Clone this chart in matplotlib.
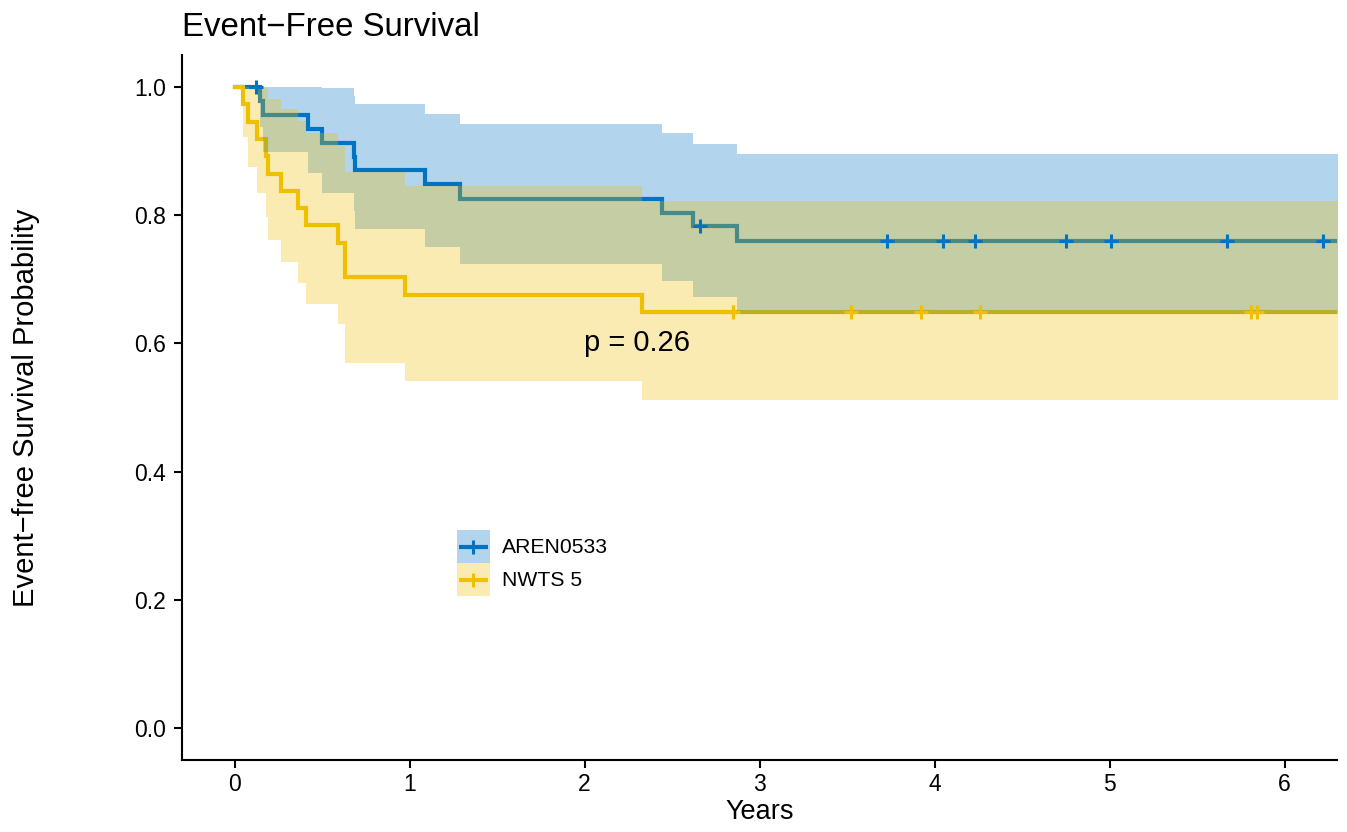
import numpy as np
import matplotlib
matplotlib.use("Agg")
import matplotlib.pyplot as plt
from matplotlib.patches import Patch, Rectangle
from matplotlib.lines import Line2D
from matplotlib.legend_handler import HandlerBase

plt.rcParams['font.family'] = ['Liberation Sans', 'DejaVu Sans']

# ---------------- data ----------------
groups = ["AREN0533", "NWTS 5"]
colors = ["#0073C2", "#EFC000"]

# AREN0533
times_a = [0.0, 0.144, 0.165, 0.42, 0.50, 0.68, 0.69, 1.09, 1.29, 2.44, 2.62, 2.87]
surv_a = [1.0, 0.978, 0.957, 0.935, 0.913, 0.891, 0.870, 0.848, 0.826, 0.804, 0.783, 0.760]
lower_a = [1.0, 0.937, 0.899, 0.866, 0.835, 0.806, 0.778, 0.750, 0.724, 0.698, 0.672, 0.646]
upper_a = [1.0, 1.0, 1.0, 1.0, 0.998, 0.986, 0.973, 0.958, 0.943, 0.928, 0.911, 0.895]
censor_a = [0.125, 2.66, 3.73, 4.05, 4.23, 4.75, 5.01, 5.67, 6.22]

# NWTS 5
times_b = [0.0, 0.046, 0.078, 0.129, 0.178, 0.19, 0.264, 0.363, 0.41, 0.59, 0.634, 0.976, 2.33]
surv_b = [1.0, 0.973, 0.946, 0.919, 0.892, 0.865, 0.838, 0.811, 0.784, 0.757, 0.703, 0.676, 0.649]
lower_b = [1.0, 0.922, 0.876, 0.835, 0.797, 0.761, 0.727, 0.694, 0.662, 0.630, 0.570, 0.541, 0.512]
upper_b = [1.0, 1.0, 1.0, 1.0, 0.998, 0.982, 0.965, 0.947, 0.928, 0.908, 0.867, 0.845, 0.822]
censor_b = [2.85, 3.52, 3.92, 4.26, 5.81, 5.84]

followup_end = 6.5

x_ticks = [0, 1, 2, 3, 4, 5, 6]
x_ticklabels = ["0", "1", "2", "3", "4", "5", "6"]
y_ticks = [0.0, 0.2, 0.4, 0.6, 0.8, 1.0]
y_ticklabels = ["0.0", "0.2", "0.4", "0.6", "0.8", "1.0"]

title = "Event\u2212Free Survival"
xlabel = "Years"
ylabel = "Event\u2212free Survival Probability"
pval_text = "p = 0.26"
pval_pos = (2.0, 0.6)

LW = 3.0
MS = 10.5
MEW = 2.2

# ---------------- plot ----------------
fig = plt.figure(figsize=(13.47, 8.32), dpi=100)
ax = fig.add_axes([182/1347, 1 - 760/832, (1337-182)/1347, (760-55)/832])

series = [
    (times_a, surv_a, lower_a, upper_a, censor_a),
    (times_b, surv_b, lower_b, upper_b, censor_b),
]

for i, (t, s, lo, hi, cens) in enumerate(series):
    tx = np.append(np.array(t), followup_end)
    sy = np.append(np.array(s), s[-1])
    ax.step(tx, sy, where='post', color=colors[i], lw=LW, zorder=2 + 0.1 * i,
            solid_joinstyle='miter')

for i, (t, s, lo, hi, cens) in enumerate(series):
    tx = np.append(np.array(t), followup_end)
    loy = np.append(np.array(lo), lo[-1])
    hiy = np.append(np.array(hi), hi[-1])
    ax.fill_between(tx, loy, hiy, step='post', color=colors[i], alpha=0.3,
                    linewidth=0, zorder=3 + 0.1 * i)

for i, (t, s, lo, hi, cens) in enumerate(series):
    idx = np.searchsorted(np.array(t), np.array(cens), side='right') - 1
    cy = np.array(s)[idx]
    ax.plot(cens, cy, linestyle='none', marker='+', color=colors[i],
            markersize=MS, markeredgewidth=MEW, zorder=4 + 0.1 * i)

ax.text(pval_pos[0], pval_pos[1], pval_text, fontsize=21, ha='left', va='center', zorder=6)

ax.set_xlim(-0.3, 6.3)
ax.set_ylim(-0.05, 1.05)
ax.set_xticks(x_ticks)
ax.set_xticklabels(x_ticklabels)
ax.set_yticks(y_ticks)
ax.set_yticklabels(y_ticklabels)

for side in ['top', 'right']:
    ax.spines[side].set_visible(False)
for side in ['left', 'bottom']:
    ax.spines[side].set_linewidth(1.5)
    ax.spines[side].set_color('black')
ax.tick_params(axis='both', direction='out', length=5.5, width=1.5, colors='black',
               labelsize=16.5)
ax.tick_params(axis='y', pad=6)
ax.tick_params(axis='x', pad=4)

ax.set_title(title, loc='left', fontsize=23.8, pad=14)
ax.set_xlabel(xlabel, fontsize=19.5, labelpad=2)
ax.set_ylabel(ylabel, fontsize=21, labelpad=68)


class BandLineHandler(HandlerBase):
    def create_artists(self, legend, orig_handle, xdescent, ydescent, width,
                       height, fontsize, trans):
        color = orig_handle.get_color()
        x0 = -xdescent
        y0 = -ydescent
        rect = Rectangle((x0, y0), width, height, facecolor=color, alpha=0.3,
                         edgecolor='none', transform=trans)
        cy = y0 + height / 2.0
        ln = Line2D([x0 + 0.06 * width, x0 + 0.94 * width], [cy, cy], color=color,
                    lw=LW, transform=trans, solid_capstyle='butt')
        mk = Line2D([x0 + width / 2.0], [cy], linestyle='none', marker='+',
                    color=color, markersize=MS, markeredgewidth=MEW, transform=trans)
        return [rect, ln, mk]


handles = [Line2D([0], [0], color=c) for c in colors]
leg = ax.legend(handles, groups, handler_map={Line2D: BandLineHandler()},
                loc='upper left', bbox_to_anchor=(0.238, 0.326), frameon=False,
                fontsize=15.2, handlelength=1.55, handleheight=2.03, labelspacing=0.0,
                handletextpad=0.6, borderpad=0.0, borderaxespad=0.0)

fig.savefig("out.png", dpi=100)
